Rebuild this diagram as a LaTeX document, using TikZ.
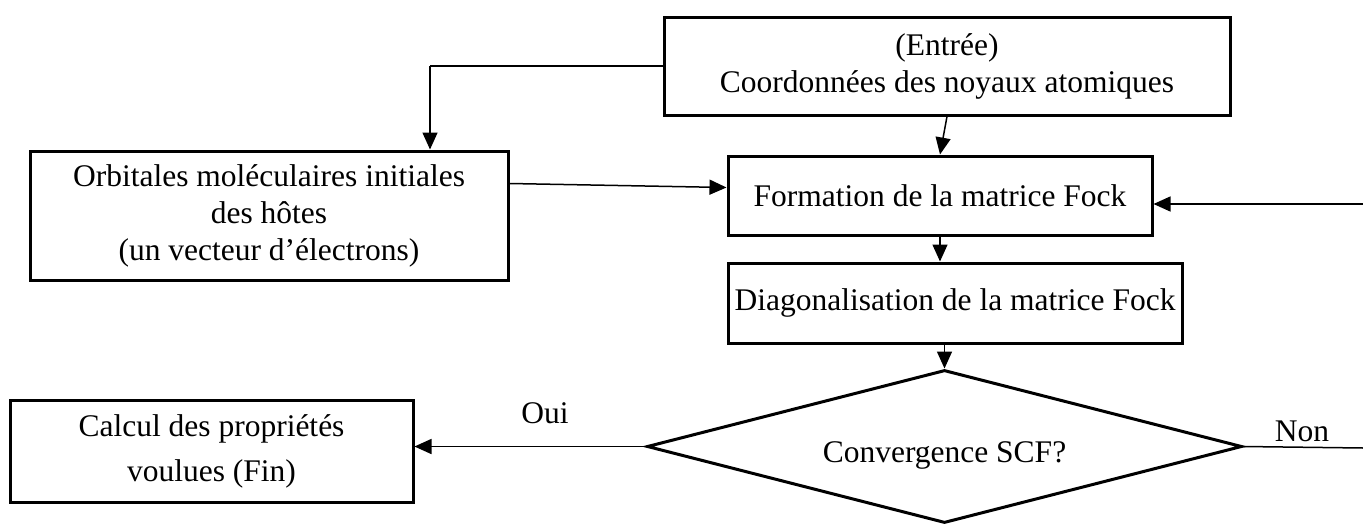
\documentclass[tikz,border=0pt]{standalone}
\usepackage{fontspec}
\setmainfont{Liberation Serif}
\usetikzlibrary{arrows.meta,shapes.geometric}
\begin{document}
\begin{tikzpicture}[x=1pt,y=-1pt,
    boite/.style={draw,line width=3pt,rectangle,align=center,inner sep=0pt},
    fleche/.style={line width=1.5pt,-{Triangle[length=17pt,width=15pt]}},
    lien/.style={line width=1.5pt},
    font=\fontsize{31.5}{37}\selectfont]
      \useasboundingbox (0,0) rectangle (1363,525);
      \draw
        (947,66) node[boite,minimum width=566pt,minimum height=98pt] (entree){(Entrée)\\Coordonnées des noyaux atomiques}
        (269,215.5) node[boite,minimum width=478pt,minimum height=129pt] (orbit){Orbitales moléculaires initiales\\des hôtes\\(un vecteur d’électrons)}
        (940,195.5) node[boite,minimum width=424pt,minimum height=79pt] (fock){Formation de la matrice Fock}
        (955,303) node[boite,minimum width=454pt,minimum height=80pt] (diag){Diagonalisation de la matrice Fock}
        (944.5,446.5) node[draw,line width=3pt,diamond,aspect=3.9,inner sep=0pt,minimum width=595pt,minimum height=153pt] (scf){}
        (944.5,455) node (conv){Convergence SCF?}
        (211.5,451) node[boite,minimum width=403pt,minimum height=102pt] (calcul){Calcul des propriétés\\[8pt]voulues (Fin)}
        (545,413) node (oui){Oui}
        (1302,431) node (non){Non};
      \coordinate (coude) at (430,66);
      \coordinate (retour) at (1363,204);
      \coordinate (sortie) at (1363,448);
      \begin{scope}[fleche]
        \draw[lien,-] (entree.west) to (coude);
        \draw (coude) to (coude |- orbit.north);
        \draw (entree.south) to (fock.north);
        \draw ([yshift=32pt]orbit.east) to ([yshift=8pt]fock.west);
        \draw (retour) to (retour -| fock.east);
        \draw (fock.south) to (fock.south |- diag.north);
        \draw (diag.south -| scf.north) to (scf.north);
        \draw (scf.west) to (scf.west -| calcul.east);
        \draw[lien,-] (scf.east) to (sortie);
      \end{scope}
    \end{tikzpicture}
\end{document}
